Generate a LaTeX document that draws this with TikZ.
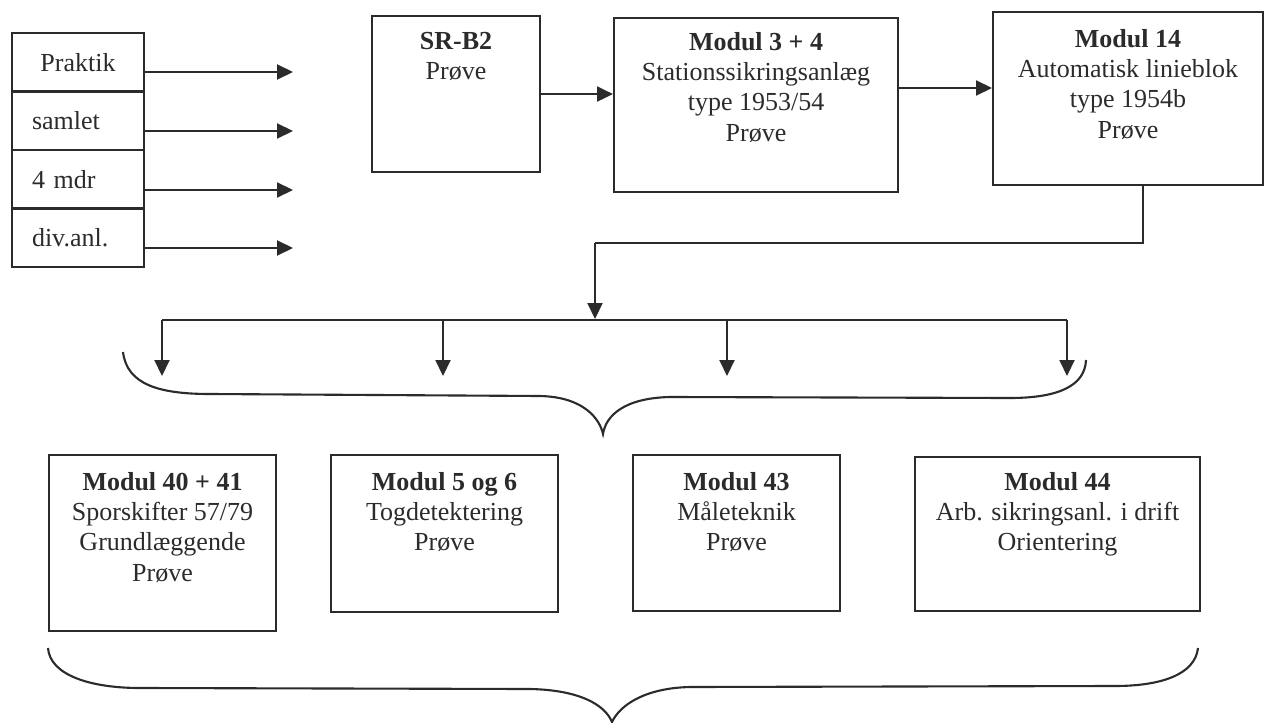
\documentclass[tikz,border=0pt]{standalone}
\usepackage{fontspec}
\setmainfont{Liberation Serif}
\usepackage{xcolor}
\usetikzlibrary{arrows.meta,positioning}

\definecolor{ink}{HTML}{2B2B2B}

\tikzset{
box/.style={draw=ink,line width=1.2pt,anchor=north west,inner sep=0pt},
cell/.style={draw=ink,line width=1.2pt,minimum height=1.17cm,text width=1.84cm,inner xsep=0.4cm,inner ysep=0pt,text=ink},
txt/.style={inner sep=0pt,align=center,text=ink},
arr/.style={draw=ink,line width=1.2pt,-{Triangle[length=0.32cm,width=0.3cm]}},
lnk/.style={draw=ink,line width=1.2pt},
brace/.style={draw=ink,line width=1.2pt}
}

\begin{document}
\begin{tikzpicture}[x=0.02cm,y=-0.02cm,font=\fontsize{14.8pt}{17.2pt}\selectfont]
\useasboundingbox (0,0) rectangle (1268,723);

% left stack
\node[cell,align=center] (prak) at (78,62.25) {Praktik};
\node[cell,align=left] (saml) at (78,120.75) {samlet};
\node[cell,align=left] (mdr) at (78,179.25) {4 mdr};
\node[cell,align=left] (div) at (78,237.75) {div.anl.};
\coordinate (t1) at (293,72);
\coordinate (t2) at (293,131);
\coordinate (t3) at (293,190);
\coordinate (t4) at (293,248);
\draw[arr](prak.east |- t1)--(t1);
\draw[arr](saml.east |- t2)--(t2);
\draw[arr](mdr.east |- t3)--(t3);
\draw[arr](div.east |- t4)--(t4);

% top row
\node[box,minimum width=3.36cm,minimum height=3.12cm] (srb) at (371,15) {};
\node[txt,below=0.34cm of srb.north] (srbt) {\textbf{SR-B2}\\Prøve};
\node[box,minimum width=5.68cm,minimum height=3.48cm] (m34) at (613,17) {};
\node[txt,below=0.3cm of m34.north] (m34t) {\textbf{Modul 3 + 4}\\Stationssikringsanlæg\\type 1953/54\\Prøve};
\node[box,minimum width=5.4cm,minimum height=3.46cm] (m14) at (992,11) {};
\node[txt,below=0.36cm of m14.north] (m14t) {\textbf{Modul 14}\\Automatisk linieblok\\type 1954b\\Prøve};
\coordinate (r1) at (0,88);
\draw[arr](srb.east)--(srb.east -| m34.west);
\draw[arr](m34.east |- r1)--(m14.west |- r1);

% down to the split
\coordinate (d1) at (1143,243);
\coordinate (d2) at (595,243);
\coordinate (split) at (595,319);
\draw[lnk](m14.south -| d1)--(d1)--(d2);
\draw[arr](d2)--(split);
\coordinate (bl) at (162,320);
\coordinate (br) at (1067,320);
\draw[lnk](bl)--(br);
\coordinate (a1) at (162,376);
\coordinate (a2) at (443,376);
\coordinate (a3) at (727,376);
\coordinate (a4) at (1067,376);
\draw[arr](a1 |- bl)--(a1);
\draw[arr](a2 |- bl)--(a2);
\draw[arr](a3 |- bl)--(a3);
\draw[arr](a4 |- bl)--(a4);

% upper brace
\draw[brace](123,352) .. controls (127,385) and (160,394) .. (210,394)
--(540,396) .. controls (585,397) and (600,420) .. (603,434)
.. controls (606,415) and (625,398) .. (670,397)
--(1010,398) .. controls (1060,398) and (1085,385) .. (1086,360);

% bottom row
\node[box,minimum width=4.54cm,minimum height=3.52cm] (b1) at (48,454) {};
\node[txt,below=0.36cm of b1.north] (b1t) {\textbf{Modul 40 + 41}\\Sporskifter 57/79\\Grundlæggende\\Prøve};
\node[box,minimum width=4.54cm,minimum height=3.14cm] (b2) at (330,454) {};
\node[txt,below=0.36cm of b2.north] (b2t) {\textbf{Modul 5 og 6}\\Togdetektering\\Prøve};
\node[box,minimum width=4.14cm,minimum height=3.12cm] (b3) at (632,454) {};
\node[txt,below=0.36cm of b3.north] (b3t) {\textbf{Modul 43}\\Måleteknik\\Prøve};
\node[box,minimum width=5.7cm,minimum height=3.08cm] (b4) at (914,456) {};
\node[txt,below=0.32cm of b4.north] (b4t) {\textbf{Modul 44}\\Arb. sikringsanl. i drift\\Orientering};

% bottom brace
\draw[brace](48,648) .. controls (50,675) and (90,688) .. (140,688)
--(530,689) .. controls (580,690) and (605,705) .. (612,722)
.. controls (620,705) and (645,688) .. (690,687)
--(1115,686) .. controls (1160,686) and (1195,675) .. (1198,648);
\end{tikzpicture}
\end{document}
